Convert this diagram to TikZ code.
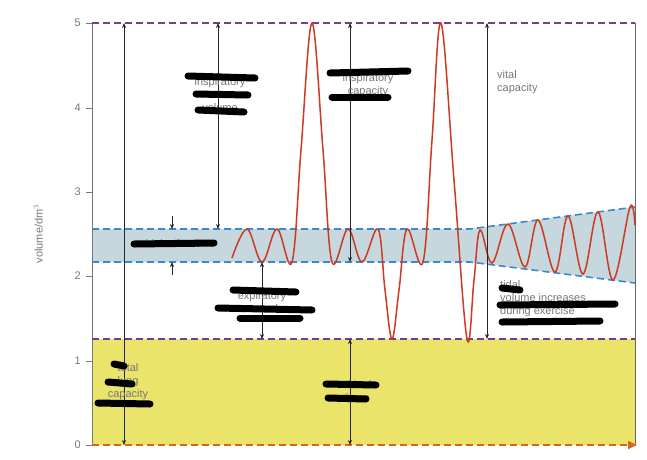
\documentclass[tikz,border=0pt]{standalone}
\usepackage{fontspec}
\setmainfont{Liberation Sans}
\usetikzlibrary{arrows.meta}
\definecolor{band}{HTML}{C6D8DE}
\definecolor{yel}{HTML}{EAE46A}
\definecolor{pur}{HTML}{7B3A8C}
\definecolor{org}{HTML}{D9661E}
\definecolor{blu}{HTML}{3C88C8}
\definecolor{red}{HTML}{CC3A22}
\definecolor{txt}{HTML}{777777}
\begin{document}
\begin{tikzpicture}[x=1pt,y=-1pt,
  lbl/.style={text=txt,font=\fontsize{11}{13}\selectfont,align=center,inner sep=0pt},
  dim/.style={draw=black!85,line width=0.7pt,{Stealth[length=5pt,width=4pt]}-{Stealth[length=5pt,width=4pt]}},
  tip/.style={draw=black!85,line width=0.7pt,-{Stealth[length=5pt,width=4pt]}},
  scrib/.style={draw=black,line width=7pt,line cap=round},
  hd/.style={dash pattern=on 7pt off 4pt,line width=1.6pt}]
\useasboundingbox (0,0) rectangle (647,459);
% fills
\fill[yel] (92,339) rectangle (635,445);
\fill[band] (92,229) -- (470,229) -- (635,207) -- (635,283) -- (470,262) -- (92,262) -- cycle;
% frame
\draw[txt,line width=0.8pt] (92,23) -- (92,445);
\draw[black!60,line width=0.8pt] (635,23) -- (635,445);
% axis
\foreach \v/\y in {0/445,1/361,2/276,3/192,4/108,5/23}{
  \draw[txt,line width=0.8pt] (86,\y) -- (92,\y);
  \node[lbl,anchor=east] (t\v) at (81,\y) {\v};}
\node[lbl,rotate=90] (ylab) at (38,234) {volume/dm$^3$};
% dashed lines
\draw[blu,hd] (92,229) -- (470,229) -- (635,207);
\draw[blu,hd] (92,262) -- (470,262) -- (635,283);
\draw[pur,hd] (92,23) -- (635,23);
\draw[pur,hd] (92,339) -- (635,339);
\coordinate (o0) at (92,445); \coordinate (o1) at (637,445);
\draw[org,hd,-{Triangle[length=9pt,width=8pt]}] (o0) -- (o1);
% red curve
\draw[red,line width=1.5pt] plot[smooth,tension=0.6] coordinates {
 (232,258) (247,229) (262,262) (277,229) (292,262) (301,150) (312,23) (323,150) (332,262)
 (348,229) (362,262) (378,229) (385,290) (392,339) (399,290) (407,229) (423,262) (432,140) (441,23) (454,180) (467,339)
 (474,280) (480,230) (492,263) (508,224) (525,267) (538,220) (555,272) (568,216) (583,274)
 (598,212) (613,280) (630,207) (635,225)};
% dimension arrows
\coordinate (a1) at (124,23); \coordinate (a2) at (124,445);
\draw[dim] (a1) -- (a2);
\coordinate (b1) at (218,23); \coordinate (b2) at (218,229);
\draw[dim] (b1) -- (b2);
\coordinate (c1) at (172,216); \coordinate (c2) at (172,229);
\coordinate (c3) at (172,275); \coordinate (c4) at (172,262);
\draw[tip] (c1) -- (c2); \draw[tip] (c3) -- (c4);
\coordinate (d1) at (262,262); \coordinate (d2) at (262,339);
\draw[dim] (d1) -- (d2);
\coordinate (e1) at (350,23); \coordinate (e2) at (350,262);
\draw[dim] (e1) -- (e2);
\coordinate (f1) at (487,23); \coordinate (f2) at (487,339);
\draw[dim] (f1) -- (f2);
\coordinate (g1) at (350,339); \coordinate (g2) at (350,445);
\draw[dim] (g1) -- (g2);
% labels
\node[lbl,align=left,anchor=north west] (vc) at (497,70) {vital\\capacity};
\node[lbl] (rv) at (352,391) {residual\\volume};
\node[lbl] (tlc) at (128,382) {total\\lung\\capacity};
\node[lbl] (irv) at (220,95) {inspiratory\\reserve\\volume};
\node[lbl] (ic) at (368,85) {inspiratory\\capacity};
\node[lbl] (tv) at (172,244) {tidal volume};
\node[lbl] (erv) at (262,302) {expiratory\\reserve volume};
\node[lbl,align=left,anchor=north west] (tve) at (500,280) {tidal\\volume increases\\during exercise};
% scribbles
\draw[scrib] (188,76) -- (255,78); \draw[scrib] (196,94) -- (248,95); \draw[scrib] (198,110) -- (244,112);
\draw[scrib] (330,73) -- (408,71); \draw[scrib] (332,97) -- (388,97);
\draw[scrib] (134,244) -- (214,243);
\draw[scrib] (233,290) -- (296,292); \draw[scrib] (218,308) -- (312,310); \draw[scrib] (240,318) -- (300,318);
\draw[scrib] (502,288) -- (520,290); \draw[scrib] (500,305) -- (615,304); \draw[scrib] (502,322) -- (600,321);
\draw[scrib] (114,364) -- (124,366); \draw[scrib] (108,382) -- (132,384); \draw[scrib] (98,403) -- (150,404);
\draw[scrib] (326,384) -- (376,385); \draw[scrib] (328,398) -- (366,399);
\end{tikzpicture}
\end{document}
